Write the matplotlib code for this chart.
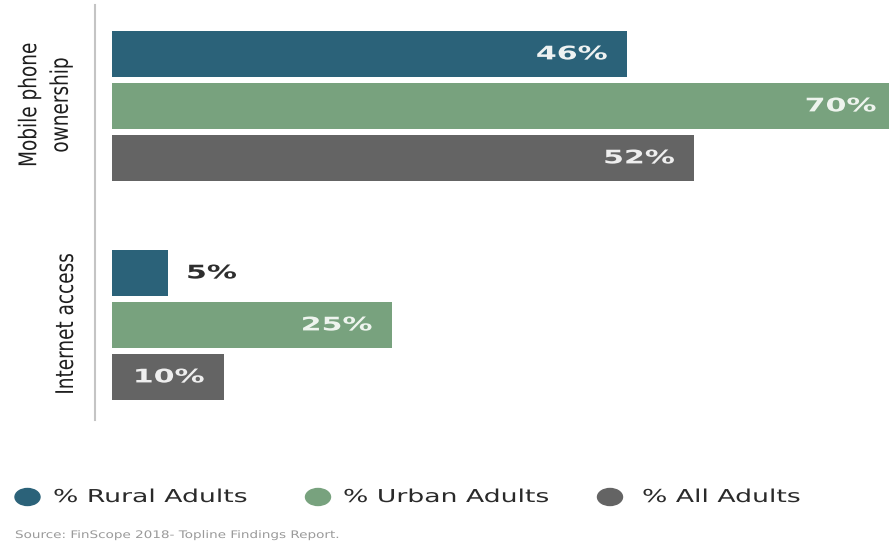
import matplotlib.pyplot as plt
from matplotlib.patches import Ellipse
from matplotlib.patheffects import AbstractPathEffect
from matplotlib.transforms import Affine2D

# Data
groups = ["Mobile phone\nownership", "Internet access"]
series = ["% Rural Adults", "% Urban Adults", "% All Adults"]
rural = [46, 5]
urban = [70, 25]
all_adults = [52, 10]
values = [rural, urban, all_adults]

colors = ["#2b6279", "#78a27e", "#646464"]
label_colors = ["#eef2f2", "#eef4ee", "#eeeeee"]


class Stretch(AbstractPathEffect):
    """Scale glyphs along the text direction around a chosen anchor."""

    def __init__(self, sx, anchor="left"):
        super().__init__()
        self.sx = sx
        self.anchor = anchor

    def draw_path(self, renderer, gc, tpath, affine, rgbFace=None):
        ext = tpath.get_extents()
        if self.anchor == "left":
            a = 0.0
        elif self.anchor == "right":
            a = ext.x1
        else:
            a = 0.5 * (ext.x0 + ext.x1)
        t = Affine2D().translate(-a, 0).scale(self.sx, 1).translate(a, 0) + affine
        renderer.draw_path(gc, tpath, t, rgbFace)


W, H = 889, 544
fig = plt.figure(figsize=(W / 100, H / 100), dpi=100)
fig.patch.set_facecolor("white")

# axes area in pixels: left spine at x=95, top y=5, bottom y=420
ax = fig.add_axes([95 / W, 1 - 420 / H, 1 - 95 / W, (420 - 5) / H])

px_per_unit = 11.2
xmin = -(112 - 95) / px_per_unit
xmax = (W - 112) / px_per_unit
ax.set_xlim(xmin, xmax)

pitch = 1.0
bar_h = 0.885
group_offset = 219 / 52
ax.set_ylim(7.04, -0.94)

label_x = [45, 66]
for gi, g in enumerate(groups):
    base = gi * group_offset
    for si in range(3):
        v = values[si][gi]
        y = base + si * pitch
        ax.barh(y, v, height=bar_h, left=0, color=colors[si], zorder=2)
        if v >= 10:
            ax.annotate(f"{v}%", xy=(v, y), xytext=(-20, 0), textcoords="offset pixels",
                        ha="right", va="center", fontsize=13.5, fontweight="bold",
                        color=label_colors[si], family="DejaVu Sans",
                        annotation_clip=False,
                        path_effects=[Stretch(1.6, "right")])
        else:
            ax.annotate(f"{v}%", xy=(v, y), xytext=(18, 0), textcoords="offset pixels",
                        ha="left", va="center", fontsize=13.5, fontweight="bold",
                        color="#2e2e2e", family="DejaVu Sans",
                        annotation_clip=False,
                        path_effects=[Stretch(1.6, "left")])
    fig.text(label_x[gi] / W, 1 - (105 + gi * 219) / H, g, rotation=90, ha="center",
             va="center", fontsize=17.5, color="#1e1e1e", linespacing=1.4,
             family="DejaVu Sans", path_effects=[Stretch(0.76, "center")])

for s in ["top", "right", "bottom"]:
    ax.spines[s].set_visible(False)
ax.spines["left"].set_color("#c4c4c4")
ax.spines["left"].set_linewidth(1.5)
ax.set_xticks([])
ax.set_yticks([])
ax.patch.set_alpha(0)

# Legend
leg_marker_x = [27.5, 318, 610]
leg_text_x = [53, 343, 642]
leg_y = 497
for i, (name, c) in enumerate(zip(series, colors)):
    e = Ellipse((leg_marker_x[i] / W, 1 - leg_y / H), 25 / W, 17 / H,
                transform=fig.transFigure, color=c)
    fig.patches.append(e)
    fig.text(leg_text_x[i] / W, 1 - leg_y / H, name, ha="left", va="center",
             fontsize=12.8, color="#2a2a2a", family="DejaVu Sans",
             path_effects=[Stretch(1.5, "left")])

fig.text(15 / W, 1 - 535 / H, "Source: FinScope 2018- Topline Findings Report.",
         ha="left", va="center", fontsize=7.5, color="#9a9a9a", family="DejaVu Sans",
         path_effects=[Stretch(1.3, "left")])

fig.savefig("out.png", dpi=100)
